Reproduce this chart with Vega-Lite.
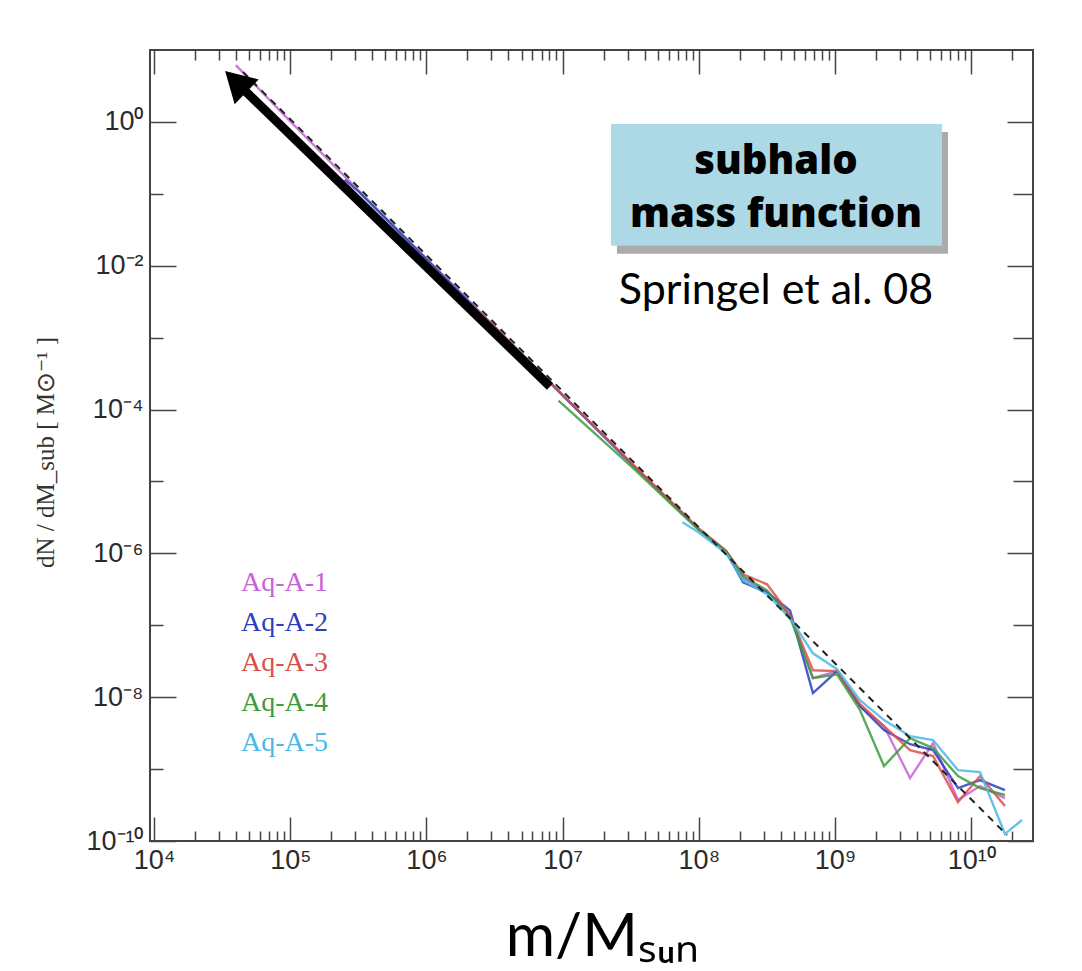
{
  "$schema": "https://vega.github.io/schema/vega-lite/v6.json",
  "width": 883,
  "height": 791,
  "autosize": {"type": "none"},
  "padding": {"left": 150, "top": 50, "right": 49, "bottom": 130},
  "background": "white",
  "config": {
    "view": {"stroke": "#444", "strokeWidth": 2},
    "axis": {"domain": false, "grid": false, "labelFont": "Liberation Sans", "labelFontSize": 27, "labelColor": "#2a2a2a", "tickColor": "#444", "tickWidth": 1.5, "labelFlush": false, "labelOverlap": false}
  },
  "datasets": {
    "series": [
      {"run": "Aq-A-1", "m": 3.98e4, "v": 6.17},
      {"run": "Aq-A-1", "m": 1e5, "v": 1.02},
      {"run": "Aq-A-1", "m": 3.162e5, "v": 0.1122},
      {"run": "Aq-A-1", "m": 1e6, "v": 0.01259},
      {"run": "Aq-A-1", "m": 3.162e6, "v": 1.413e-3},
      {"run": "Aq-A-1", "m": 1e7, "v": 1.585e-4},
      {"run": "Aq-A-1", "m": 3.162e7, "v": 1.82e-5},
      {"run": "Aq-A-1", "m": 1e8, "v": 2.188e-6},
      {"run": "Aq-A-1", "m": 1.585e8, "v": 1.072e-6},
      {"run": "Aq-A-1", "m": 2.113e8, "v": 4.5e-7},
      {"run": "Aq-A-1", "m": 3.17e8, "v": 2.96e-7},
      {"run": "Aq-A-1", "m": 4.677e8, "v": 1.38e-7},
      {"run": "Aq-A-1", "m": 6.887e8, "v": 1.84e-8},
      {"run": "Aq-A-1", "m": 1.035e9, "v": 2.3e-8},
      {"run": "Aq-A-1", "m": 1.528e9, "v": 7.5e-9},
      {"run": "Aq-A-1", "m": 2.291e9, "v": 3.95e-9},
      {"run": "Aq-A-1", "m": 3.556e9, "v": 7.5e-10},
      {"run": "Aq-A-1", "m": 5.248e9, "v": 2.3e-9},
      {"run": "Aq-A-1", "m": 8.0e9, "v": 3.71e-10},
      {"run": "Aq-A-1", "m": 1.161e10, "v": 5.81e-10},
      {"run": "Aq-A-1", "m": 1.77e10, "v": 3.95e-10},
      {"run": "Aq-A-2", "m": 2.512e5, "v": 0.158},
      {"run": "Aq-A-2", "m": 3.162e5, "v": 0.108},
      {"run": "Aq-A-2", "m": 1e6, "v": 0.0123},
      {"run": "Aq-A-2", "m": 3.162e6, "v": 1.4e-3},
      {"run": "Aq-A-2", "m": 1e7, "v": 1.57e-4},
      {"run": "Aq-A-2", "m": 3.162e7, "v": 1.8e-5},
      {"run": "Aq-A-2", "m": 1e8, "v": 2.15e-6},
      {"run": "Aq-A-2", "m": 1.585e8, "v": 1.06e-6},
      {"run": "Aq-A-2", "m": 2.113e8, "v": 3.95e-7},
      {"run": "Aq-A-2", "m": 3.17e8, "v": 2.87e-7},
      {"run": "Aq-A-2", "m": 4.677e8, "v": 1.61e-7},
      {"run": "Aq-A-2", "m": 6.887e8, "v": 1.14e-8},
      {"run": "Aq-A-2", "m": 1.035e9, "v": 2.3e-8},
      {"run": "Aq-A-2", "m": 1.528e9, "v": 7.5e-9},
      {"run": "Aq-A-2", "m": 2.291e9, "v": 3.48e-9},
      {"run": "Aq-A-2", "m": 3.556e9, "v": 2.22e-9},
      {"run": "Aq-A-2", "m": 5.248e9, "v": 1.84e-9},
      {"run": "Aq-A-2", "m": 8.0e9, "v": 5.45e-10},
      {"run": "Aq-A-2", "m": 1.161e10, "v": 7.03e-10},
      {"run": "Aq-A-2", "m": 1.77e10, "v": 5.11e-10},
      {"run": "Aq-A-3", "m": 1.585e6, "v": 4.68e-3},
      {"run": "Aq-A-3", "m": 3.162e6, "v": 1.43e-3},
      {"run": "Aq-A-3", "m": 1e7, "v": 1.6e-4},
      {"run": "Aq-A-3", "m": 3.162e7, "v": 1.84e-5},
      {"run": "Aq-A-3", "m": 1e8, "v": 2.2e-6},
      {"run": "Aq-A-3", "m": 1.585e8, "v": 1.09e-6},
      {"run": "Aq-A-3", "m": 2.113e8, "v": 5.11e-7},
      {"run": "Aq-A-3", "m": 3.17e8, "v": 3.71e-7},
      {"run": "Aq-A-3", "m": 4.677e8, "v": 1.38e-7},
      {"run": "Aq-A-3", "m": 6.887e8, "v": 2.37e-8},
      {"run": "Aq-A-3", "m": 1.035e9, "v": 2.3e-8},
      {"run": "Aq-A-3", "m": 1.528e9, "v": 8.0e-9},
      {"run": "Aq-A-3", "m": 2.291e9, "v": 3.95e-9},
      {"run": "Aq-A-3", "m": 3.556e9, "v": 1.84e-9},
      {"run": "Aq-A-3", "m": 5.248e9, "v": 1.52e-9},
      {"run": "Aq-A-3", "m": 8.0e9, "v": 3.48e-10},
      {"run": "Aq-A-3", "m": 1.161e10, "v": 8.0e-10},
      {"run": "Aq-A-3", "m": 1.77e10, "v": 3.06e-10},
      {"run": "Aq-A-4", "m": 9.33e6, "v": 1.33e-4},
      {"run": "Aq-A-4", "m": 3.162e7, "v": 1.65e-5},
      {"run": "Aq-A-4", "m": 1e8, "v": 2.1e-6},
      {"run": "Aq-A-4", "m": 1.585e8, "v": 1.06e-6},
      {"run": "Aq-A-4", "m": 2.113e8, "v": 4.8e-7},
      {"run": "Aq-A-4", "m": 3.17e8, "v": 3.06e-7},
      {"run": "Aq-A-4", "m": 4.677e8, "v": 1.29e-7},
      {"run": "Aq-A-4", "m": 6.887e8, "v": 1.84e-8},
      {"run": "Aq-A-4", "m": 1.035e9, "v": 2.08e-8},
      {"run": "Aq-A-4", "m": 1.528e9, "v": 6.59e-9},
      {"run": "Aq-A-4", "m": 2.291e9, "v": 1.1e-9},
      {"run": "Aq-A-4", "m": 3.556e9, "v": 2.7e-9},
      {"run": "Aq-A-4", "m": 5.248e9, "v": 1.96e-9},
      {"run": "Aq-A-4", "m": 8.0e9, "v": 8.0e-10},
      {"run": "Aq-A-4", "m": 1.161e10, "v": 5.45e-10},
      {"run": "Aq-A-4", "m": 1.77e10, "v": 4.36e-10},
      {"run": "Aq-A-5", "m": 7.59e7, "v": 2.7e-6},
      {"run": "Aq-A-5", "m": 1e8, "v": 1.95e-6},
      {"run": "Aq-A-5", "m": 1.585e8, "v": 1.0e-6},
      {"run": "Aq-A-5", "m": 2.113e8, "v": 4.22e-7},
      {"run": "Aq-A-5", "m": 3.17e8, "v": 2.7e-7},
      {"run": "Aq-A-5", "m": 4.677e8, "v": 1.25e-7},
      {"run": "Aq-A-5", "m": 6.887e8, "v": 4.08e-8},
      {"run": "Aq-A-5", "m": 1.035e9, "v": 2.45e-8},
      {"run": "Aq-A-5", "m": 1.528e9, "v": 9.08e-9},
      {"run": "Aq-A-5", "m": 2.291e9, "v": 4.8e-9},
      {"run": "Aq-A-5", "m": 3.556e9, "v": 2.87e-9},
      {"run": "Aq-A-5", "m": 5.248e9, "v": 2.53e-9},
      {"run": "Aq-A-5", "m": 8.0e9, "v": 9.68e-10},
      {"run": "Aq-A-5", "m": 1.161e10, "v": 9.08e-10},
      {"run": "Aq-A-5", "m": 1.77e10, "v": 1.25e-10},
      {"run": "Aq-A-5", "m": 2.36e10, "v": 1.96e-10}
    ],
    "fit": [
      {"m": 4.5e4, "v": 4.94},
      {"m": 1.832e10, "v": 1.21e-10}
    ],
    "arrow": [
      {"m": 8.08e6, "v": 2.085e-4, "m2": 4.21e4, "v2": 3.26}
    ],
    "head": [
      {"m": 3.988e4, "v": 3.65}
    ],
    "shadow": [
      {"m": 2.506e7, "m2": 6.76e9, "v": 0.726, "v2": 0.01469}
    ],
    "box": [
      {"m": 2.265e7, "m2": 6.11e9, "v": 0.938, "v2": 0.01897}
    ],
    "boxtext": [
      {"m": 3.69e8, "v": 0.1897, "label": "subhalo"},
      {"m": 3.69e8, "v": 0.0348, "label": "mass function"}
    ],
    "cite": [
      {"m": 3.69e8, "v": 2.965e-3, "label": "Springel et al. 08"}
    ]
  },
  "layer": [
    {
      "data": {"name": "shadow"},
      "mark": {"type": "rect", "color": "#444", "opacity": 0.45},
      "encoding": {
        "x": {"field": "m", "type": "quantitative", "scale": {"type": "log", "domain": [9333, 2.844e10], "nice": false},
          "axis": {"orient": "bottom", "values": [1e4, 1e5, 1e6, 1e7, 1e8, 1e9, 1e10], "tickSize": -24, "labelPadding": 30,
            "labelExpr": "datum.value < 5e4 ? '10⁴' : datum.value < 5e5 ? '10⁵' : datum.value < 5e6 ? '10⁶' : datum.value < 5e7 ? '10⁷' : datum.value < 5e8 ? '10⁸' : datum.value < 5e9 ? '10⁹' : '10¹⁰'",
            "title": "m/Mₛᵤₙ", "titleFont": "Lato", "titleFontSize": 60, "titleFontWeight": "normal", "titleColor": "#000",
            "titleX": 452, "titleY": 114, "titleBaseline": "alphabetic", "titleAlign": "center"}},
        "x2": {"field": "m2"},
        "y": {"field": "v", "type": "quantitative", "scale": {"type": "log", "domain": [1e-10, 10], "nice": false},
          "axis": {"orient": "left", "values": [1, 1e-2, 1e-4, 1e-6, 1e-8, 1e-10], "tickSize": -26, "labelPadding": 33,
            "labelExpr": "datum.value > 0.5 ? '10⁰' : datum.value > 5e-3 ? '10⁻²' : datum.value > 5e-5 ? '10⁻⁴' : datum.value > 5e-7 ? '10⁻⁶' : datum.value > 5e-9 ? '10⁻⁸' : '10⁻¹⁰'",
            "title": "dN / dM_sub [ M⊙⁻¹ ]", "titleFont": "Liberation Serif", "titleFontSize": 25, "titleFontWeight": "normal", "titleColor": "#333",
            "titleX": -105, "titleY": 402, "titleAngle": -90, "titleAlign": "center", "titleBaseline": "middle"}},
        "y2": {"field": "v2"}
      }
    },
    {
      "data": {"name": "box"},
      "mark": {"type": "rect", "color": "#add8e6"},
      "encoding": {
        "x": {"field": "m", "type": "quantitative", "scale": {"type": "log", "domain": [9333, 2.844e10], "nice": false},
          "axis": {"orient": "bottom", "values": [2e4, 3e4, 4e4, 5e4, 6e4, 7e4, 8e4, 9e4, 2e5, 3e5, 4e5, 5e5, 6e5, 7e5, 8e5, 9e5, 2e6, 3e6, 4e6, 5e6, 6e6, 7e6, 8e6, 9e6, 2e7, 3e7, 4e7, 5e7, 6e7, 7e7, 8e7, 9e7, 2e8, 3e8, 4e8, 5e8, 6e8, 7e8, 8e8, 9e8, 2e9, 3e9, 4e9, 5e9, 6e9, 7e9, 8e9, 9e9, 2e10], "tickSize": -10, "labels": false, "title": null}},
        "x2": {"field": "m2"},
        "y": {"field": "v", "type": "quantitative", "scale": {"type": "log", "domain": [1e-10, 10], "nice": false},
          "axis": {"orient": "left", "values": [0.1, 1e-3, 1e-5, 1e-7, 1e-9], "tickSize": -13, "labels": false, "title": null}},
        "y2": {"field": "v2"}
      }
    },
    {
      "data": {"name": "series"},
      "mark": {"type": "line", "strokeWidth": 2.4, "opacity": 0.85},
      "encoding": {
        "x": {"field": "m", "type": "quantitative", "scale": {"type": "log", "domain": [9333, 2.844e10], "nice": false},
          "axis": {"orient": "top", "values": [1e4, 1e5, 1e6, 1e7, 1e8, 1e9, 1e10], "tickSize": -24, "labels": false, "title": null}},
        "y": {"field": "v", "type": "quantitative", "scale": {"type": "log", "domain": [1e-10, 10], "nice": false},
          "axis": {"orient": "right", "values": [1, 1e-2, 1e-4, 1e-6, 1e-8, 1e-10], "tickSize": -26, "labels": false, "title": null}},
        "color": {"field": "run", "type": "nominal",
          "scale": {"domain": ["Aq-A-1", "Aq-A-2", "Aq-A-3", "Aq-A-4", "Aq-A-5"], "range": ["#c862d8", "#2b3fbf", "#d9504a", "#3c9c3c", "#4ab8e6"]},
          "legend": {"orient": "none", "legendX": 63, "legendY": 519, "title": null, "symbolSize": 0, "symbolStrokeWidth": 0, "symbolOpacity": 0,
            "labelFont": "Liberation Serif", "labelFontSize": 28, "labelOffset": 0, "rowPadding": 12, "padding": 0,
            "encode": {"labels": {"update": {"fill": {"scale": "color", "field": "value"}}}}}}
      }
    },
    {
      "data": {"name": "fit"},
      "mark": {"type": "line", "color": "#222", "strokeDash": [7, 6], "strokeWidth": 2},
      "encoding": {
        "x": {"field": "m", "type": "quantitative", "scale": {"type": "log", "domain": [9333, 2.844e10], "nice": false},
          "axis": {"orient": "top", "values": [2e4, 3e4, 4e4, 5e4, 6e4, 7e4, 8e4, 9e4, 2e5, 3e5, 4e5, 5e5, 6e5, 7e5, 8e5, 9e5, 2e6, 3e6, 4e6, 5e6, 6e6, 7e6, 8e6, 9e6, 2e7, 3e7, 4e7, 5e7, 6e7, 7e7, 8e7, 9e7, 2e8, 3e8, 4e8, 5e8, 6e8, 7e8, 8e8, 9e8, 2e9, 3e9, 4e9, 5e9, 6e9, 7e9, 8e9, 9e9, 2e10], "tickSize": -10, "labels": false, "title": null}},
        "y": {"field": "v", "type": "quantitative", "scale": {"type": "log", "domain": [1e-10, 10], "nice": false},
          "axis": {"orient": "right", "values": [0.1, 1e-3, 1e-5, 1e-7, 1e-9], "tickSize": -20, "labels": false, "title": null}}
      }
    },
    {
      "data": {"name": "arrow"},
      "mark": {"type": "rule", "color": "black", "strokeWidth": 9},
      "encoding": {
        "x": {"field": "m", "type": "quantitative", "scale": {"type": "log", "domain": [9333, 2.844e10], "nice": false}, "axis": null},
        "x2": {"field": "m2"},
        "y": {"field": "v", "type": "quantitative", "scale": {"type": "log", "domain": [1e-10, 10], "nice": false}, "axis": null},
        "y2": {"field": "v2"}
      }
    },
    {
      "data": {"name": "head"},
      "mark": {"type": "point", "shape": "triangle-up", "size": 1200, "angle": 314, "filled": true, "color": "black", "opacity": 1},
      "encoding": {
        "x": {"field": "m", "type": "quantitative", "scale": {"type": "log", "domain": [9333, 2.844e10], "nice": false}, "axis": null},
        "y": {"field": "v", "type": "quantitative", "scale": {"type": "log", "domain": [1e-10, 10], "nice": false}, "axis": null}
      }
    },
    {
      "data": {"name": "boxtext"},
      "mark": {"type": "text", "font": "Open Sans", "fontWeight": 800, "fontSize": 40, "color": "black", "align": "center", "baseline": "alphabetic"},
      "encoding": {
        "x": {"field": "m", "type": "quantitative", "scale": {"type": "log", "domain": [9333, 2.844e10], "nice": false}, "axis": null},
        "y": {"field": "v", "type": "quantitative", "scale": {"type": "log", "domain": [1e-10, 10], "nice": false}, "axis": null},
        "text": {"field": "label"}
      }
    },
    {
      "data": {"name": "cite"},
      "mark": {"type": "text", "font": "Lato", "fontWeight": "normal", "fontSize": 43, "color": "black", "align": "center", "baseline": "alphabetic"},
      "encoding": {
        "x": {"field": "m", "type": "quantitative", "scale": {"type": "log", "domain": [9333, 2.844e10], "nice": false}, "axis": null},
        "y": {"field": "v", "type": "quantitative", "scale": {"type": "log", "domain": [1e-10, 10], "nice": false}, "axis": null},
        "text": {"field": "label"}
      }
    }
  ],
  "resolve": {"axis": {"x": "independent", "y": "independent"}}
}
